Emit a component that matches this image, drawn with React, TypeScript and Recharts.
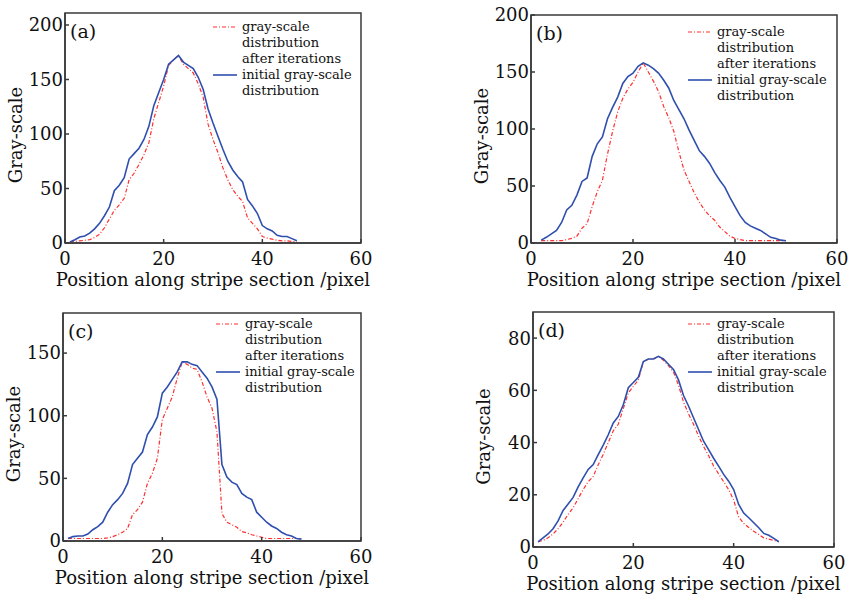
import React from 'react';
import { LineChart, Line, XAxis, YAxis, ReferenceArea, Legend, Label } from 'recharts';

// x positions (pixel index along the stripe section)
const xA = [1, 2, 3, 4, 5, 6, 7, 8, 9, 10, 11, 12, 13, 14, 15, 16, 17, 18, 19, 20, 21, 22, 23, 24, 25, 26, 27, 28, 29, 30, 31, 32, 33, 34, 35, 36, 37, 38, 39, 40, 41, 42, 43, 44, 45, 46, 47];
const initA = [1, 3, 5.5, 6.5, 9, 13, 18, 25, 33, 48, 53, 60, 77, 82, 87, 95, 107, 126, 138, 150, 164, 168, 172, 166, 163, 160, 152, 141, 123, 110, 98, 86, 75, 67, 61, 56, 40, 34, 27, 16, 13, 11, 7, 6, 6, 4, 2];
const iterA = [1, 1.5, 2, 2.5, 3, 5, 8, 14, 22, 30, 35, 41, 58, 64, 72, 81, 92, 114, 129, 144, 163, 168, 172, 164, 160, 156, 146, 134, 109, 95, 83, 69, 58, 49, 43, 38, 23, 18, 13, 6, 4.5, 3.5, 2.5, 2, 2, 1.5, 1];

const xB = [2, 3, 4, 5, 6, 7, 8, 9, 10, 11, 12, 13, 14, 15, 16, 17, 18, 19, 20, 21, 22, 23, 24, 25, 26, 27, 28, 29, 30, 31, 32, 33, 34, 35, 36, 37, 38, 39, 40, 41, 42, 43, 44, 45, 46, 47, 48, 49, 50];
const initB = [2.5, 5, 8, 11, 18, 29, 33, 42, 54, 57, 76, 87, 93, 109, 119, 128, 140, 146, 149, 155, 158, 156, 153, 149, 143, 136, 125, 117, 109, 99, 90, 81, 76, 70, 62, 55, 49, 40, 32, 24, 18, 15, 13, 11, 8, 5, 4, 2.5, 2];
const iterB = [2, 2, 2, 2, 2, 3, 4, 6, 13, 17, 32, 45, 55, 78, 98, 115, 127, 135, 141, 150, 158, 150, 142, 133, 120, 110, 98, 80, 64, 54, 44, 36, 29, 24, 20, 14, 10, 6, 4, 3, 2, 2, 2, 2, 2, 2, 2, 2, 2];

const xC = [1, 2, 3, 4, 5, 6, 7, 8, 9, 10, 11, 12, 13, 14, 15, 16, 17, 18, 19, 20, 21, 22, 23, 24, 25, 26, 27, 28, 29, 30, 31, 32, 33, 34, 35, 36, 37, 38, 39, 40, 41, 42, 43, 44, 45, 46, 47, 48];
const initC = [2, 3.5, 4, 4, 5.5, 9, 11.5, 15, 23, 29, 33, 38, 46, 61, 66, 71, 85, 91, 99, 118, 123, 129, 135, 143, 143, 141, 140, 135, 130, 123, 113, 61, 51, 47, 45, 38, 35, 33, 23, 19, 15, 12, 10, 7, 5, 4, 2, 1.5];
const iterC = [2, 2, 2, 2, 2, 2, 2, 2, 2.5, 3.5, 5, 7, 10, 21, 25, 31, 46, 54, 66, 97, 106, 115, 130, 143, 141, 138, 137, 127, 115, 106, 87, 22, 15, 13, 11, 7.5, 6.5, 5, 4, 3, 2, 2, 2, 2, 2, 2, 2, 2];

const xD = [1, 2, 3, 4, 5, 6, 7, 8, 9, 10, 11, 12, 13, 14, 15, 16, 17, 18, 19, 20, 21, 22, 23, 24, 25, 26, 27, 28, 29, 30, 31, 32, 33, 34, 35, 36, 37, 38, 39, 40, 41, 42, 43, 44, 45, 46, 47, 48, 49];
const initD = [2, 3.5, 5, 7, 10, 14, 16.5, 19, 23, 26.5, 29.7, 31.6, 35.4, 39, 43, 47.5, 50, 54.5, 61, 63, 65, 71, 72, 72, 73, 72, 70, 68, 64, 58, 54, 49.5, 45, 40.5, 37.3, 34, 31, 27.8, 25.2, 22, 16.3, 13, 11.2, 9.3, 7.4, 5.2, 4.5, 3.3, 2];
const iterD = [2, 2.5, 3.5, 5, 7, 9.5, 12.5, 15, 18.5, 22, 25, 27, 31.5, 35.5, 40, 44.5, 47, 53, 59, 61.5, 64, 71, 72, 72, 73, 71.5, 69.5, 67, 62, 55.5, 51, 47, 42.5, 38.5, 35, 31, 28, 25, 22, 18, 11.5, 9, 7.5, 6, 4.8, 3.5, 3, 2.5, 2];

const xTicks = [0, 20, 40, 60];
const yTicksA = [0, 50, 100, 150, 200];
const yTicksB = [0, 50, 100, 150, 200];
const yTicksC = [0, 50, 100, 150];
const yTicksD = [0, 20, 40, 60, 80];

const FONT = '"DejaVu Serif", serif';
const AXIS = '#3a3a3a';
const RED = '#ff3030';
const BLUE = '#2f4fae';

const rows = (xs: number[], init: number[], iter: number[]) =>
  xs.map((x, i) => ({ x, init: init[i], iter: iter[i] }));

const LegendBox = () => (
  <div style={{ fontFamily: FONT, fontSize: 13, lineHeight: '16px', color: '#111' }}>
    {[
      { mark: 'red', text: 'gray-scale' },
      { mark: '', text: 'distribution' },
      { mark: '', text: 'after iterations' },
      { mark: 'blue', text: 'initial gray-scale' },
      { mark: '', text: 'distribution' },
    ].map((r, i) => (
      <div key={i} style={{ display: 'flex', alignItems: 'center', whiteSpace: 'nowrap' }}>
        <svg width={24} height={16} style={{ marginRight: 5 }}>
          {r.mark === 'red' && <line x1={0} x2={24} y1={8} y2={8} stroke={RED} strokeWidth={1.2} strokeDasharray="4 2 1 2" />}
          {r.mark === 'blue' && <line x1={0} x2={24} y1={8} y2={8} stroke={BLUE} strokeWidth={1.6} />}
        </svg>
        <span>{r.text}</span>
      </div>
    ))}
  </div>
);

type PanelProps = {
  tag: string;
  data: { x: number; init: number; iter: number }[];
  yMax: number;
  yTicks: number[];
  left: number;
  top: number;
  height: number;
  margin: { top: number; right: number; bottom: number; left: number };
  legendPos: { left: number; top: number };
  yLabelShift: number;
};

const Panel = ({ tag, data, yMax, yTicks, left, top, height, margin, legendPos, yLabelShift }: PanelProps) => (
  <div style={{ position: 'absolute', left, top }}>
    <LineChart width={425} height={height} data={data} margin={margin}>
      <XAxis
        type="number"
        dataKey="x"
        domain={[0, 60]}
        ticks={xTicks}
        height={30}
        stroke={AXIS}
        strokeWidth={1.5}
        tickSize={-4}
        tickMargin={13}
        tick={{ fill: '#111', fontFamily: FONT, fontSize: 18 }}
      >
        <Label
          content={(p: any) => (
            <text x={p.viewBox.x + p.viewBox.width / 2} y={p.viewBox.y + 43} textAnchor="middle" fontFamily={FONT} fontSize={18} fill="#111">
              Position along stripe section /pixel
            </text>
          )}
        />
      </XAxis>
      <YAxis
        type="number"
        domain={[0, yMax]}
        ticks={yTicks}
        width={50}
        stroke={AXIS}
        strokeWidth={1.5}
        tickSize={-4}
        tickMargin={6}
        allowDataOverflow
        tick={{ fill: '#111', fontFamily: FONT, fontSize: 18 }}
      >
        <Label
          content={(p: any) => {
            const cx = p.viewBox.x + 0.5;
            const cy = p.viewBox.y + p.viewBox.height / 2 + yLabelShift;
            return (
              <text x={cx} y={cy} dy="0.36em" textAnchor="middle" transform={`rotate(-90, ${cx}, ${cy})`} fontFamily={FONT} fontSize={18} fill="#111">
                Gray-scale
              </text>
            );
          }}
        />
      </YAxis>
      <ReferenceArea
        x1={0}
        x2={60}
        y1={0}
        y2={yMax}
        fill="none"
        stroke={AXIS}
        strokeWidth={1.5}
        label={(p: any) => (
          <text x={p.viewBox.x + 5} y={p.viewBox.y + 25} fontFamily={FONT} fontSize={19} fill="#111">
            {tag}
          </text>
        )}
      />
      <Legend
        layout="horizontal"
        verticalAlign="middle"
        align="center"
        content={<LegendBox />}
        wrapperStyle={{ left: legendPos.left, top: legendPos.top, width: 'auto' }}
      />
      <Line dataKey="iter" stroke={RED} strokeWidth={1.2} strokeDasharray="4 2 1 2" dot={false} isAnimationActive={false} />
      <Line dataKey="init" stroke={BLUE} strokeWidth={1.6} dot={false} isAnimationActive={false} />
    </LineChart>
  </div>
);

export default function App() {
  return (
    <div style={{ position: 'absolute', left: 0, top: 0, width: 850, height: 597, background: '#fff' }}>
      <Panel tag="(a)" data={rows(xA, initA, iterA)} yMax={211} yTicks={yTicksA} left={0} top={0} height={298}
        margin={{ top: 13, right: 64, bottom: 25, left: 15 }} legendPos={{ left: 213, top: 19 }} yLabelShift={7} />
      <Panel tag="(b)" data={rows(xB, initB, iterB)} yMax={200} yTicks={yTicksB} left={425} top={0} height={298}
        margin={{ top: 15, right: 13, bottom: 25, left: 56 }} legendPos={{ left: 263, top: 24 }} yLabelShift={7} />
      <Panel tag="(c)" data={rows(xC, initC, iterC)} yMax={182} yTicks={yTicksC} left={0} top={298} height={299}
        margin={{ top: 15, right: 64, bottom: 26, left: 13 }} legendPos={{ left: 216, top: 18 }} yLabelShift={7} />
      <Panel tag="(d)" data={rows(xD, initD, iterD)} yMax={90} yTicks={yTicksD} left={425} top={298} height={299}
        margin={{ top: 14, right: 16, bottom: 20, left: 58 }} legendPos={{ left: 263, top: 18 }} yLabelShift={7} />
    </div>
  );
}
